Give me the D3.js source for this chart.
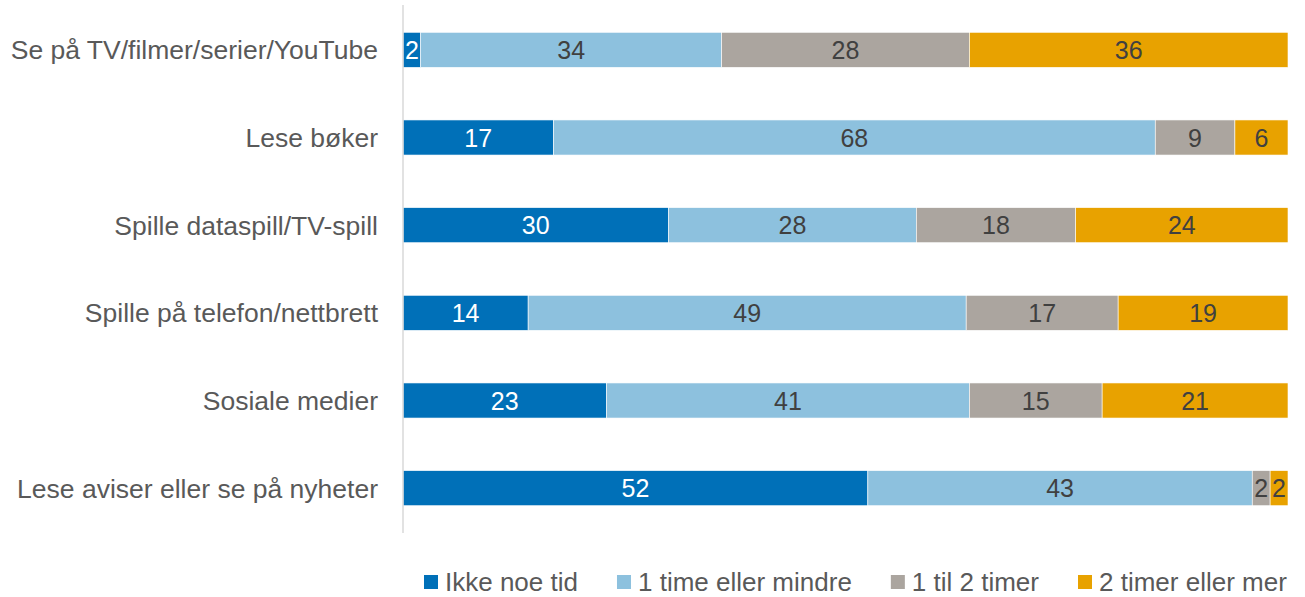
<!DOCTYPE html>
<html><head><meta charset="utf-8">
<script src="https://cdn.jsdelivr.net/npm/d3@7"></script>
<style>body{margin:0;background:#fff;}svg{display:block;font-family:"Liberation Sans",Arial,sans-serif;}</style>
</head><body>
<svg id="c" width="1305" height="597"></svg>
<script>
const categories = ["Se på TV/filmer/serier/YouTube","Lese bøker","Spille dataspill/TV-spill","Spille på telefon/nettbrett","Sosiale medier","Lese aviser eller se på nyheter"];
const seriesNames = ["Ikke noe tid","1 time eller mindre","1 til 2 timer","2 timer eller mer"];
const ikkeNoeTid = [2,17,30,14,23,52];
const enTimeEllerMindre = [34,68,28,49,41,43];
const enTilToTimer = [28,9,18,17,15,2];
const toTimerEllerMer = [36,6,24,19,21,2];
const colors = ["#0070B8","#8DC1DE","#ABA59F","#E8A200"];
const labelColors = ["#ffffff","#404040","#404040","#404040"];

const seriesValues = [ikkeNoeTid, enTimeEllerMindre, enTilToTimer, toTimerEllerMer];
const table = categories.map((c,i)=>{const o={cat:c}; seriesNames.forEach((s,j)=>o[s]=seriesValues[j][i]); return o;});
const stacked = d3.stack().keys(seriesNames).offset(d3.stackOffsetExpand)(table);

const svg = d3.select("#c");
const x = d3.scaleLinear().domain([0,1]).range([403,1288]);
const y = d3.scaleBand().domain(categories).range([6,532]).paddingInner(0.6).paddingOuter(0.3);

const g = svg.append("g");
stacked.forEach((layer,j)=>{
  const lg = g.append("g");
  lg.selectAll("rect").data(layer).join("rect")
    .attr("x",d=>x(d[0])).attr("width",d=>x(d[1])-x(d[0]))
    .attr("y",d=>y(d.data.cat)).attr("height",y.bandwidth())
    .attr("fill",colors[j]).attr("stroke","#fff").attr("stroke-width",0.6);
  lg.selectAll("text").data(layer).join("text")
    .attr("x",d=>(x(d[0])+x(d[1]))/2).attr("y",d=>y(d.data.cat)+y.bandwidth()/2)
    .attr("dy","0.36em").attr("text-anchor","middle")
    .attr("font-size",25).attr("fill",labelColors[j])
    .text(d=>d.data[seriesNames[j]]);
});

// axis
const ax = svg.append("g").attr("transform","translate(403,0)").call(d3.axisLeft(y).tickSize(0).tickPadding(25));
ax.select(".domain").attr("stroke","#d9d9d9").attr("stroke-width",1.5).attr("d","M0,5V533");
ax.selectAll("text").attr("font-size",26.5).attr("fill","#595959").attr("font-family","Liberation Sans, Arial, sans-serif").attr("dy","0.36em");

// legend
const leg = svg.append("g");
let lx = 424;
seriesNames.forEach((s,j)=>{
  leg.append("rect").attr("x",lx).attr("y",575).attr("width",14).attr("height",14).attr("fill",colors[j]);
  const t = leg.append("text").attr("x",lx+21).attr("y",591).attr("font-size",26).attr("fill","#595959").text(s);
  lx += 21 + t.node().getComputedTextLength() + 39;
});
</script>
</body></html>
